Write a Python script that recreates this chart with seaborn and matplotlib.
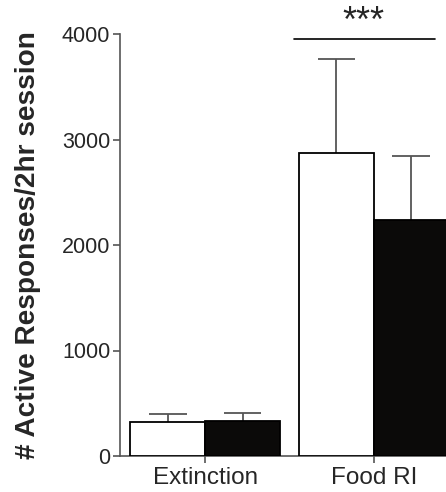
import matplotlib
matplotlib.use("Agg")
import matplotlib.pyplot as plt
import seaborn as sns
import pandas as pd
import numpy as np

# Data
phases = ["Extinction", "Food RI"]
groups = ["Control", "Treatment"]
means_control = [322, 2869]
means_treat = [329, 2237]
sem_control = [79, 891]
sem_treat = [81, 609]
yticks = [0, 1000, 2000, 3000, 4000]
sig_label = "***"

df = pd.DataFrame({
    "phase": phases * 2,
    "group": [groups[0]] * 2 + [groups[1]] * 2,
    "value": means_control + means_treat,
})
sems = {groups[0]: sem_control, groups[1]: sem_treat}

sns.set_style("ticks")
plt.rcParams["font.family"] = ["Liberation Sans", "DejaVu Sans"]

W, H = 446, 492
fig = plt.figure(figsize=(W / 100, H / 100), dpi=100)
ax = fig.add_axes([120 / W, (H - 456) / H, (458 - 120) / W, (456 - 34) / H])

sns.barplot(data=df, x="phase", y="value", hue="group",
            palette=["white", "#0c0a08"], edgecolor="black", linewidth=1.3,
            width=0.89, errorbar=None, legend=False, ax=ax, zorder=3)

err_col = "#555555"
for cont, g in zip(ax.containers, groups):
    for bar, e in zip(cont, sems[g]):
        cx = bar.get_x() + bar.get_width() / 2
        top = bar.get_height()
        hw = bar.get_width() / 4
        ax.vlines(cx, top, top + e, color=err_col, lw=1.3, zorder=2)
        ax.hlines(top + e, cx - hw, cx + hw, color=err_col, lw=1.3, zorder=2)

ax.set_xlim(-0.506, 1.5)
ax.set_ylim(0, 4000)
ax.set_yticks(yticks)
ax.set_yticklabels([str(t) for t in yticks], fontsize=15.5)
ax.tick_params(axis="x", labelsize=17.5, length=5, width=1.2, color="#555555", pad=3)
ax.tick_params(axis="y", length=5, width=1.2, color="#555555", pad=2)
for s in ["left", "bottom"]:
    ax.spines[s].set_color("#555555")
    ax.spines[s].set_linewidth(1.2)
sns.despine(ax=ax)
ax.spines["bottom"].set_bounds(-0.506, 1.5)
ax.set_xlabel("")
ax.set_ylabel("# Active Responses/2hr session", fontsize=20.2, fontweight="bold", labelpad=15)

# significance
ax.plot([0.524, 1.363], [3953, 3953], color="black", lw=1.2, clip_on=False)
ax.text(0.94, 4110, sig_label, ha="center", va="center", fontsize=26, clip_on=False)

fig.savefig("out.png", dpi=100)
